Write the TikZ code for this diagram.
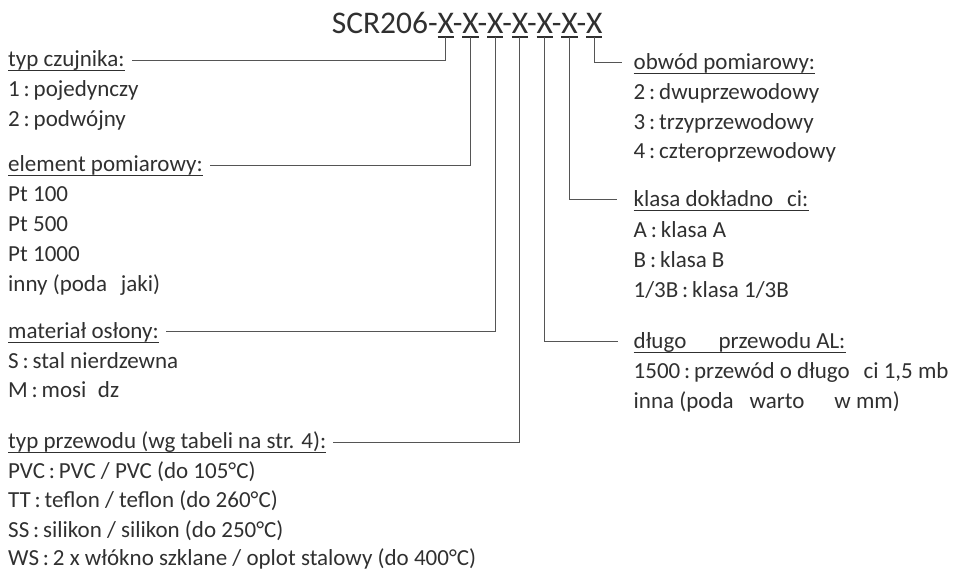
\documentclass[tikz,border=0pt]{standalone}
\usepackage{fontspec}
\setmainfont{Carlito}
\definecolor{txt}{HTML}{303030}
\definecolor{ln}{HTML}{555555}
\newcommand{\ttlfont}{\fontsize{31.5}{34}\selectfont}
\tikzset{
  lab/.style={anchor=base west, inner sep=0pt, text=txt, font=\fontsize{23}{26}\selectfont},
  head/.style={lab},
  ttl/.style={anchor=base west, inner sep=0pt, text=txt, font=\ttlfont},
  conn/.style={draw=ln, line width=0.9pt},
  ulbar/.style={draw=txt, line width=1.6pt},
  xbar/.style={draw=txt, line width=2pt}
}
\newcommand{\ul}[1]{\draw[ulbar] ([yshift=-4.5pt]#1.base west) -- ([yshift=-4.5pt]#1.base east);}
\begin{document}
\begin{tikzpicture}[x=1pt,y=-1pt]
\useasboundingbox (0,0) rectangle (964,571);
% title, with the X positions measured from the font
{\ttlfont
 \pgfmathsetmacro\wa{width("SCR206-")}
 \pgfmathsetmacro\wx{width("X")}
 \pgfmathsetmacro\wxh{width("X-")}
 \pgfmathsetmacro\xo{445.7-\wa-\wx/2}
 \xdef\wa{\wa}\xdef\wx{\wx}\xdef\wxh{\wxh}\xdef\xo{\xo}}
\node[ttl] (title) at (\xo,33) {SCR206-X-X-X-X-X-X-X};
\foreach \i in {1,...,7}{
  \pgfmathsetmacro\xc{\wa+(\i-1)*\wxh}
  \coordinate (xl\i) at ([xshift=\xc pt, yshift=-4pt]title.base west);
  \coordinate (xr\i) at ([xshift=\wx pt]xl\i);
  \coordinate (x\i) at ([xshift=0.5*\wx pt]xl\i);
  \draw[xbar] (xl\i) -- (xr\i);
}
% left column
\node[head] (a0) at (8,66) {typ czujnika:};
\node[lab] (a1) at (8,96) {1\,:\,pojedynczy};
\node[lab] (a2) at (8,126) {2\,:\,podwójny};
\node[head] (b0) at (8,171) {element pomiarowy:};
\node[lab] (b1) at (8,201.5) {Pt 100};
\node[lab] (b2) at (8,231.5) {Pt 500};
\node[lab] (b3) at (8,261.5) {Pt 1000};
\node[lab] (b4) at (8,291.5) {inny (poda\hspace{0.6em}jaki)};
\node[head] (c0) at (8,338) {materiał osłony:};
\node[lab] (c1) at (8,368) {S\,:\,stal nierdzewna};
\node[lab] (c2) at (8,397) {M\,:\,mosi\hspace{0.5em}dz};
\node[head] (d0) at (8,448) {typ przewodu (wg tabeli na str. 4):};
\node[lab] (d1) at (8,478) {PVC\,:\,PVC / PVC (do 105°C)};
\node[lab] (d2) at (8,507.5) {TT\,:\,teflon / teflon (do 260°C)};
\node[lab] (d3) at (8,537) {SS\,:\,silikon / silikon (do 250°C)};
\node[lab] (d4) at (8,565) {WS\,:\,2 x włókno szklane / oplot stalowy (do 400°C)};
% right column
\node[head] (e0) at (633.5,69) {obwód pomiarowy:};
\node[lab] (e1) at (633.5,99.3) {2\,:\,dwuprzewodowy};
\node[lab] (e2) at (633.5,129.3) {3\,:\,trzyprzewodowy};
\node[lab] (e3) at (633.5,158.8) {4\,:\,czteroprzewodowy};
\node[head] (f0) at (633.5,206) {klasa dokładno\hspace{0.6em}ci:};
\node[lab] (f1) at (633.5,237) {A\,:\,klasa A};
\node[lab] (f2) at (633.5,267) {B\,:\,klasa B};
\node[lab] (f3) at (633.5,297) {1/3B\,:\,klasa 1/3B};
\node[head] (g0) at (633.5,348) {długo\hspace{1.4em}przewodu AL:};
\node[lab] (g1) at (633.5,378.5) {1500\,:\,przewód o długo\hspace{0.6em}ci 1,5 mb};
\node[lab] (g2) at (633.5,408.3) {inna (poda\hspace{0.7em}warto\hspace{1.3em}w mm)};
% underlines
\ul{a0}\ul{b0}\ul{c0}\ul{d0}\ul{e0}\ul{f0}\ul{g0}
% connectors
\draw[conn] (x1) |- ([xshift=7pt,yshift=5.5pt]a0.base east);
\draw[conn] (x2) |- ([xshift=7pt,yshift=6pt]b0.base east);
\draw[conn] (x3) |- ([xshift=7pt,yshift=6.5pt]c0.base east);
\draw[conn] (x4) |- ([xshift=7pt,yshift=5.5pt]d0.base east);
\draw[conn] (x5) |- ([xshift=-16pt,yshift=6.5pt]g0.base west);
\draw[conn] (x6) |- ([xshift=-17pt,yshift=6.5pt]f0.base west);
\draw[conn] (x7) |- ([xshift=-12pt,yshift=6.5pt]e0.base west);
\end{tikzpicture}
\end{document}
